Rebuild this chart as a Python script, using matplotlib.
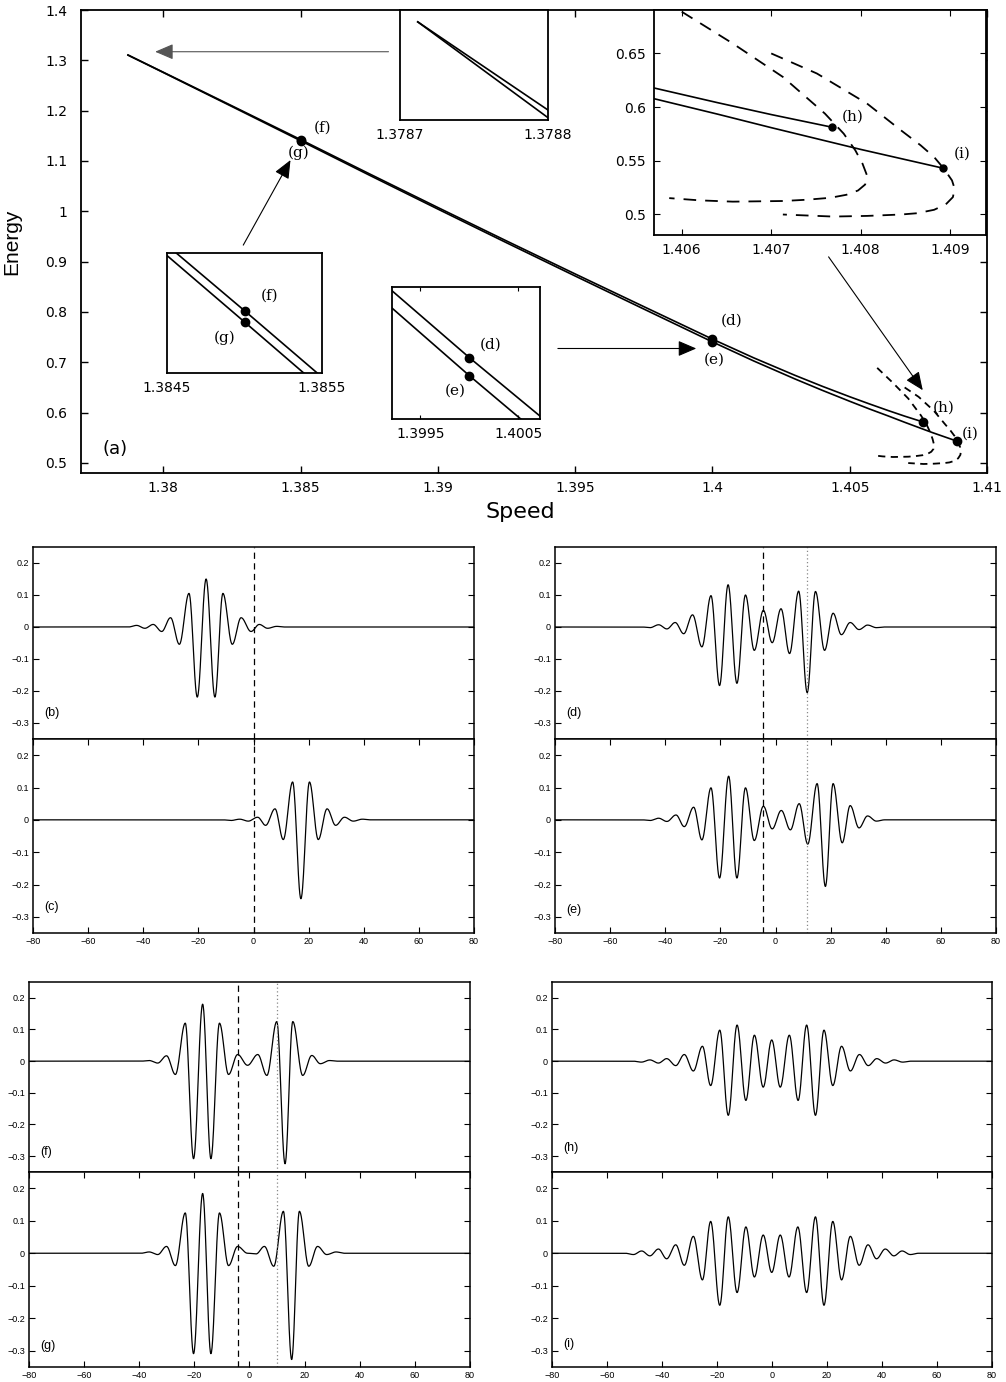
import numpy as np
import matplotlib
matplotlib.use('Agg')
import matplotlib.pyplot as plt

W, H = 1006, 1382

# ---------------- panel (a): energy vs speed ----------------
upper_speed = [1.378712, 1.3788, 1.3800, 1.3825, 1.3850, 1.3875, 1.3900, 1.3925, 1.3950,
               1.3975, 1.4000, 1.4015, 1.4030, 1.4040, 1.4050, 1.4057, 1.4064, 1.4070, 1.40768]
upper_energy = [1.3105, 1.3082, 1.2763, 1.2095, 1.1425, 1.0746, 1.0075, 0.9411, 0.8755,
                0.8106, 0.7460, 0.7089, 0.6742, 0.6523, 0.6315, 0.6176, 0.6041, 0.5930, 0.5812]
lower_speed = [1.378712, 1.3788, 1.3800, 1.3825, 1.3850, 1.3875, 1.3900, 1.3925, 1.3950,
               1.3975, 1.4000, 1.4015, 1.4030, 1.4040, 1.4050, 1.4057, 1.4064, 1.4070, 1.4080, 1.40892]
lower_energy = [1.3105, 1.3080, 1.2757, 1.2081, 1.1402, 1.0719, 1.0044, 0.9375, 0.8714,
                0.8058, 0.7405, 0.7027, 0.6670, 0.6443, 0.6225, 0.6076, 0.5934, 0.5808, 0.5605, 0.5430]

dash1_speed = [1.40600, 1.40657, 1.40713, 1.40760, 1.40781, 1.40794, 1.40802, 1.40807, 1.40805,
               1.40797, 1.40784, 1.40766, 1.40740, 1.40713, 1.40657, 1.40620, 1.40586]
dash1_energy = [0.6889, 0.6593, 0.6281, 0.5939, 0.5752, 0.5596, 0.5472, 0.5363, 0.5278,
                0.5222, 0.5182, 0.5154, 0.5136, 0.5124, 0.5118, 0.5130, 0.5151]
dash2_speed = [1.40700, 1.40751, 1.40807, 1.40845, 1.40867, 1.40882, 1.40893, 1.40902, 1.40905,
               1.40903, 1.40895, 1.40882, 1.40863, 1.40845, 1.40807, 1.40769, 1.40713]
dash2_energy = [0.6500, 0.6313, 0.6033, 0.5783, 0.5643, 0.5534, 0.5425, 0.5316, 0.5238,
                0.5160, 0.5092, 0.5042, 0.5010, 0.4998, 0.4985, 0.4979, 0.4998]

pt_names = ['(f)', '(g)', '(d)', '(e)', '(h)', '(i)']
pt_speed = [1.385, 1.385, 1.400, 1.400, 1.40768, 1.40892]
pt_energy = [1.1425, 1.1402, 0.7460, 0.7405, 0.5812, 0.5430]

main_xticks = [1.38, 1.385, 1.39, 1.395, 1.4, 1.405, 1.41]
main_xticklabels = ['1.38', '1.385', '1.39', '1.395', '1.4', '1.405', '1.41']
main_yticks = [0.5, 0.6, 0.7, 0.8, 0.9, 1.0, 1.1, 1.2, 1.3, 1.4]
main_yticklabels = ['0.5', '0.6', '0.7', '0.8', '0.9', '1', '1.1', '1.2', '1.3', '1.4']
hi_xticks = [1.406, 1.407, 1.408, 1.409]
hi_yticks = [0.5, 0.55, 0.6, 0.65]

# ---------------- wave profiles: extrema (x, y) ----------------
b_ext_x = [-42.4, -39.4, -36.4, -33.3, -30.1, -26.9, -23.4, -20.4, -17.2, -14.0, -11.1, -7.7, -4.5, -0.9, 2.1, 5.1, 8.4]
b_ext_y = [0.005, -0.004, 0.008, -0.014, 0.029, -0.054, 0.105, -0.219, 0.150, -0.219, 0.105, -0.054, 0.029, -0.014, 0.008, -0.004, 0.002]
c_ext_x = [-8.2, -5.0, -1.9, 1.5, 4.4, 7.8, 10.8, 14.2, 17.2, 20.3, 23.5, 26.7, 29.8, 33.0, 36.2, 39.5]
c_ext_y = [-0.002, 0.002, -0.004, 0.008, -0.017, 0.034, -0.061, 0.117, -0.244, 0.117, -0.061, 0.034, -0.017, 0.008, -0.004, 0.002]
d_ext_x = [-45.5, -42.4, -39.4, -36.4, -33.3, -30.1, -26.7, -23.4, -20.3, -17.2, -14.0, -10.9, -7.7, -4.4, -1.2, 2.0, 5.1, 8.4,
           11.5, 14.5, 17.8, 20.9, 23.9, 27.1, 30.3, 33.4, 36.6]
d_ext_y = [-0.002, 0.007, -0.006, 0.014, -0.021, 0.038, -0.062, 0.098, -0.183, 0.132, -0.176, 0.100, -0.073, 0.052, -0.049, 0.057,
           -0.083, 0.112, -0.205, 0.111, -0.073, 0.043, -0.024, 0.014, -0.008, 0.006, -0.002]
e_ext_x = [-45.5, -42.4, -39.4, -36.1, -33.1, -29.7, -26.7, -23.4, -20.3, -17.0, -14.0, -10.9, -7.7, -4.4, -1.2, 2.1, 5.4, 8.6,
           11.7, 15.1, 18.1, 20.9, 24.2, 27.1, 30.3, 33.4, 36.6]
e_ext_y = [-0.002, 0.005, -0.005, 0.015, -0.021, 0.039, -0.062, 0.099, -0.180, 0.135, -0.180, 0.099, -0.064, 0.042, -0.028, 0.029,
           -0.031, 0.050, -0.075, 0.112, -0.206, 0.112, -0.071, 0.044, -0.025, 0.012, -0.004]
f_ext_x = [-36.4, -33.3, -30.1, -26.9, -23.3, -20.3, -17.0, -14.0, -10.9, -7.6, -4.3, -0.7, 3.0, 6.3, 9.9, 12.9, 15.7, 19.3, 22.6, 25.7, 29.0]
f_ext_y = [0.002, -0.006, 0.017, -0.042, 0.120, -0.308, 0.180, -0.308, 0.120, -0.042, 0.021, -0.013, 0.021, -0.045, 0.125, -0.324,
           0.125, -0.045, 0.018, -0.008, 0.002]
g_ext_x = [-36.4, -33.3, -30.1, -26.9, -23.3, -20.3, -17.0, -14.0, -10.9, -7.6, -4.3, -0.7, 2.4, 5.4, 8.8, 12.3, 15.3, 18.1, 21.5,
           24.7, 28.0, 31.4]
g_ext_y = [0.004, -0.004, 0.021, -0.038, 0.124, -0.309, 0.184, -0.309, 0.124, -0.038, 0.021, 0.000, -0.002, 0.021, -0.040, 0.129,
           -0.327, 0.129, -0.040, 0.021, -0.004, 0.004]
h_ext_x = [-47.5, -44.4, -41.3, -38.3, -35.0, -31.9, -28.6, -25.3, -22.3, -19.0, -15.9, -12.7, -9.5, -6.4, -3.2, -0.1,
           3.0, 6.3, 9.5, 12.6, 15.8, 18.9, 22.1, 25.3, 28.5, 31.8, 35.0, 38.1, 41.3, 44.4, 47.5]
h_ext_y = [-0.003, 0.004, -0.006, 0.008, -0.014, 0.021, -0.031, 0.047, -0.077, 0.098, -0.171, 0.114, -0.124, 0.082, -0.082, 0.067,
           -0.082, 0.082, -0.124, 0.114, -0.171, 0.098, -0.077, 0.047, -0.031, 0.021, -0.014, 0.008, -0.006, 0.004, -0.003]
i_ext_x = [-50.4, -47.4, -44.4, -41.3, -38.3, -35.0, -31.9, -28.6, -25.3, -22.3, -19.0, -15.9, -12.7, -9.5, -6.4, -3.2, -0.1,
           3.0, 6.2, 9.4, 12.6, 15.8, 18.9, 22.1, 25.3, 28.5, 31.7, 34.9, 38.0, 41.2, 44.3, 47.3, 50.3]
i_ext_y = [-0.004, 0.007, -0.008, 0.013, -0.017, 0.026, -0.037, 0.052, -0.082, 0.098, -0.160, 0.112, -0.121, 0.081, -0.073, 0.056,
           -0.059, 0.056, -0.073, 0.081, -0.121, 0.112, -0.160, 0.098, -0.082, 0.052, -0.037, 0.026, -0.017, 0.013, -0.008, 0.007, -0.004]

wave_xticks = [-80, -60, -40, -20, 0, 20, 40, 60, 80]
wave_xticklabels = ['\u221280', '\u221260', '\u221240', '\u221220', '0', '20', '40', '60', '80']
wave_yticks = [-0.3, -0.2, -0.1, 0, 0.1, 0.2]
wave_yticklabels = ['\u22120.3', '\u22120.2', '\u22120.1', '0', '0.1', '0.2']

dash_pos = {'bc': 0.0, 'de': -4.4, 'fg': -4.3}
dot_pos = {'de': 11.6, 'fg': 9.9}


def packet(ex, ey, n=30):
    px = [-80.0, ex[0] - 3.0] + list(ex) + [ex[-1] + 3.0, 80.0]
    py = [0.0, 0.0] + list(ey) + [0.0, 0.0]
    X, Y = [], []
    for k in range(len(px) - 1):
        t = np.linspace(0, 1, n, endpoint=False)
        X.append(px[k] + (px[k + 1] - px[k]) * t)
        Y.append(py[k] + (py[k + 1] - py[k]) * (1 - np.cos(np.pi * t)) / 2)
    X.append(np.array([80.0]))
    Y.append(np.array([0.0]))
    return np.concatenate(X), np.concatenate(Y)


def rect(l, t, r, b):
    return [l / W, 1 - b / H, (r - l) / W, (b - t) / H]


fig = plt.figure(figsize=(W / 100, H / 100), dpi=100)
MF = 'DejaVu Sans'

# ---------- main axes ----------
ax = fig.add_axes(rect(81, 10, 987, 473))
ax.plot(upper_speed, upper_energy, 'k-', lw=1.2)
ax.plot(lower_speed, lower_energy, 'k-', lw=1.2)
ax.plot(dash1_speed, dash1_energy, color='k', lw=1.3, ls=(0, (4, 3)))
ax.plot(dash2_speed, dash2_energy, color='k', lw=1.3, ls=(0, (4, 3)))
ax.plot(pt_speed, pt_energy, 'ko', ms=6)
ax.set_xlim(1.377, 1.41)
ax.set_ylim(0.48, 1.4)
ax.set_xticks(main_xticks)
ax.set_xticklabels(main_xticklabels, family=MF, fontsize=10)
ax.set_yticks(main_yticks)
ax.set_yticklabels(main_yticklabels, family=MF, fontsize=10)
ax.tick_params(direction='in', top=True, right=True, length=5, width=1)
ax.tick_params(axis='y', pad=10)
ax.tick_params(axis='x', pad=6)
for s in ax.spines.values():
    s.set_linewidth(1.3)
ax.set_xlabel('Speed', family=MF, fontsize=16)
ax.xaxis.set_label_coords(0.4845, -0.063)
ax.set_ylabel('Energy', family='Liberation Sans', fontsize=15)
ax.yaxis.set_label_coords(-0.066, 0.499)
ax.text(1.37777, 0.527, '(a)', family=MF, fontsize=13, ha='left', va='center')

serif = 'DejaVu Serif'
main_lab_pos = {'(f)': (1.38580, 1.1654), '(g)': (1.38492, 1.1157), '(d)': (1.40069, 0.7837),
                '(e)': (1.40007, 0.706), '(h)': (1.40842, 0.609), '(i)': (1.40937, 0.559)}
for nm in pt_names:
    x, y = main_lab_pos[nm]
    ax.text(x, y, nm, family=serif, fontsize=11, ha='center', va='center')

aprops = dict(arrowstyle='-|>,head_length=0.7,head_width=0.3', lw=0.8, mutation_scale=16, shrinkA=0, shrinkB=0)
ax.annotate('', xy=(1.37970, 1.3171), xytext=(1.38820, 1.3171),
            arrowprops=dict(color='#555555', **aprops))
ax.annotate('', xy=(1.38463, 1.1018), xytext=(1.38291, 0.9328), arrowprops=dict(color='k', **aprops))
ax.annotate('', xy=(1.39941, 0.7274), xytext=(1.39437, 0.7274), arrowprops=dict(color='k', **aprops))
ax.annotate('', xy=(1.40766, 0.6445), xytext=(1.40423, 0.9095), arrowprops=dict(color='k', **aprops))


def inset_common(a):
    for s in a.spines.values():
        s.set_linewidth(1.3)
    a.set_yticks([])


# ---------- top inset ----------
a1 = fig.add_axes(rect(400, 10, 548, 120))
a1.plot(upper_speed, upper_energy, 'k-', lw=1.2)
a1.plot(lower_speed, lower_energy, 'k-', lw=1.2)
a1.set_xlim(1.3787, 1.3788)
a1.set_ylim(1.30794, 1.31081)
inset_common(a1)
a1.set_xticks([1.3787, 1.3788])
a1.set_xticklabels(['1.3787', '1.3788'], family=MF, fontsize=10)
a1.tick_params(length=0, pad=6)

# ---------- f/g inset ----------
a2 = fig.add_axes(rect(167, 253, 322, 373))
a2.plot(upper_speed, upper_energy, 'k-', lw=1.2)
a2.plot(lower_speed, lower_energy, 'k-', lw=1.2)
a2.plot(pt_speed[:2], pt_energy[:2], 'ko', ms=6)
a2.set_xlim(1.3845, 1.3855)
a2.set_ylim(1.12976, 1.15430)
inset_common(a2)
a2.set_xticks([1.3845, 1.3855])
a2.set_xticklabels(['1.3845', '1.3855'], family=MF, fontsize=10)
a2.tick_params(length=0, pad=6)
a2.text(1.38516, 1.1455, '(f)', family=serif, fontsize=11, ha='center', va='center')
a2.text(1.38487, 1.1369, '(g)', family=serif, fontsize=11, ha='center', va='center')

# ---------- d/e inset ----------
a3 = fig.add_axes(rect(392, 287, 540, 419))
a3.plot(upper_speed, upper_energy, 'k-', lw=1.2)
a3.plot(lower_speed, lower_energy, 'k-', lw=1.2)
a3.plot(pt_speed[2:4], pt_energy[2:4], 'ko', ms=6)
a3.set_xlim(1.39921, 1.40072)
a3.set_ylim(0.72730, 0.76756)
inset_common(a3)
a3.set_xticks([1.3995, 1.4005])
a3.set_xticklabels(['1.3995', '1.4005'], family=MF, fontsize=10)
a3.tick_params(direction='in', top=True, length=3, pad=6)
a3.text(1.40022, 0.7500, '(d)', family=serif, fontsize=11, ha='center', va='center')
a3.text(1.39986, 0.7358, '(e)', family=serif, fontsize=11, ha='center', va='center')

# ---------- h/i inset ----------
a4 = fig.add_axes(rect(654, 10, 986, 235))
a4.plot(upper_speed, upper_energy, 'k-', lw=1.2)
a4.plot(lower_speed, lower_energy, 'k-', lw=1.2)
a4.plot(dash1_speed, dash1_energy, color='k', lw=1.3, ls=(0, (7, 5)))
a4.plot(dash2_speed, dash2_energy, color='k', lw=1.3, ls=(0, (7, 5)))
a4.plot(pt_speed[4:], pt_energy[4:], 'ko', ms=5)
a4.set_xlim(1.40569, 1.4094)
a4.set_ylim(0.4807, 0.6905)
for s in a4.spines.values():
    s.set_linewidth(1.3)
a4.set_xticks(hi_xticks)
a4.set_xticklabels(['1.406', '1.407', '1.408', '1.409'], family=MF, fontsize=10)
a4.set_yticks(hi_yticks)
a4.set_yticklabels(['0.5', '0.55', '0.6', '0.65'], family=MF, fontsize=10)
a4.tick_params(direction='in', top=True, right=True, length=4, pad=6)
a4.text(1.40791, 0.5907, '(h)', family=serif, fontsize=11, ha='center', va='center')
a4.text(1.40913, 0.5565, '(i)', family=serif, fontsize=11, ha='center', va='center')

# ---------- wave panels ----------
SF = 'Liberation Sans'
panels = [
    ('(b)', b_ext_x, b_ext_y, rect(33, 547, 474, 739), False, 'bc', -0.27),
    ('(c)', c_ext_x, c_ext_y, rect(33, 739, 474, 933), True, 'bc', -0.27),
    ('(d)', d_ext_x, d_ext_y, rect(555, 547, 996, 739), False, 'de', -0.27),
    ('(e)', e_ext_x, e_ext_y, rect(555, 739, 996, 933), True, 'de', -0.28),
    ('(f)', f_ext_x, f_ext_y, rect(29, 982, 470, 1172), False, 'fg', -0.288),
    ('(g)', g_ext_x, g_ext_y, rect(29, 1172, 470, 1367), True, 'fg', -0.285),
    ('(h)', h_ext_x, h_ext_y, rect(552, 982, 992, 1172), False, 'hi', -0.273),
    ('(i)', i_ext_x, i_ext_y, rect(552, 1172, 992, 1367), True, 'hi', -0.279),
]
for lab, ex, ey, pos, lower, grp, ly in panels:
    w = fig.add_axes(pos)
    X, Y = packet(ex, ey)
    w.plot(X, Y, 'k-', lw=0.9)
    if grp in dash_pos:
        w.axvline(dash_pos[grp], color='k', lw=0.9, ls=(0, (5, 3.5)))
    if grp in dot_pos:
        w.axvline(dot_pos[grp], color='#888888', lw=0.9, ls=(0, (1, 2)))
    w.set_xlim(-80, 80)
    w.set_ylim(-0.35, 0.25)
    w.set_yticks(wave_yticks)
    w.set_yticklabels(wave_yticklabels, family=SF, fontsize=6.5)
    w.set_xticks(wave_xticks)
    w.set_xticklabels(wave_xticklabels, family=SF, fontsize=6.5)
    w.tick_params(direction='in', right=True, length=4, width=0.8, pad=3)
    if lower:
        w.tick_params(axis='x', top=True, bottom=True, labelbottom=True)
    else:
        w.tick_params(axis='x', top=False, bottom=False, labelbottom=False)
    for s in w.spines.values():
        s.set_linewidth(1.1)
    w.text(-76, ly, lab, family=SF, fontsize=9, ha='left', va='center')

fig.savefig('out.png', dpi=100)
